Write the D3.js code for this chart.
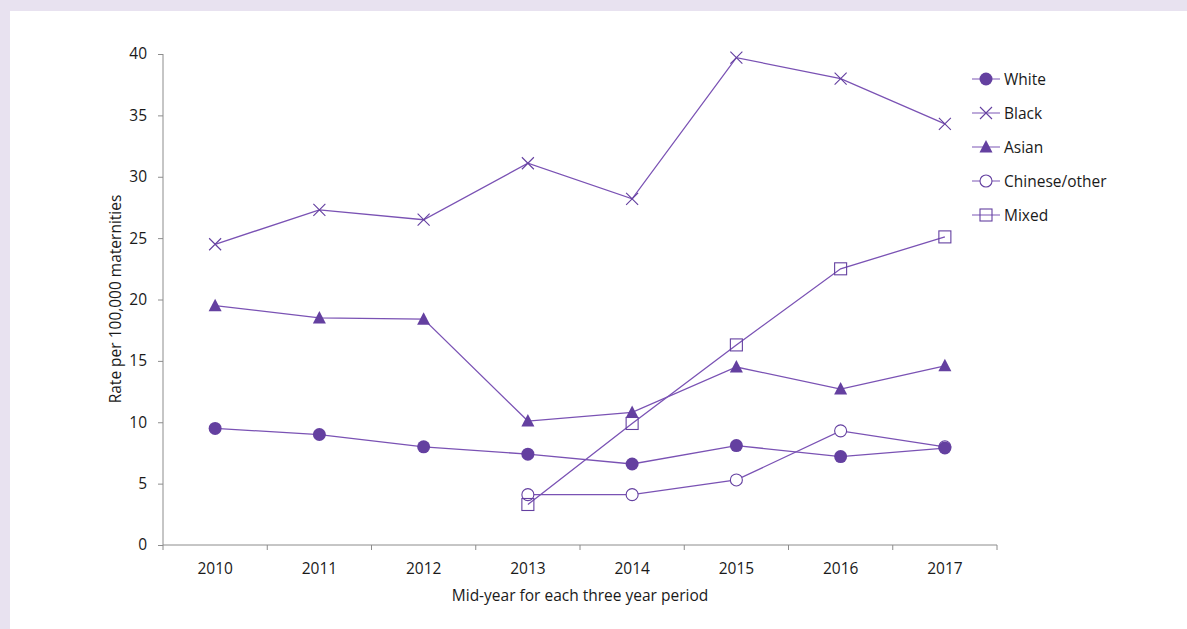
<!DOCTYPE html>
<html><head><meta charset="utf-8">
<script src="https://cdn.jsdelivr.net/npm/d3@7"></script>
<style>
body{margin:0;background:#e8e2f0;}
svg{display:block;}
text{font-family:"Open Sans","Noto Sans",sans-serif;fill:#1a1a1a;}
</style></head><body>
<svg id="c" width="1187" height="629"></svg>
<script>
const years = ["2010","2011","2012","2013","2014","2015","2016","2017"];
const white = [9.5, 9.0, 8.0, 7.4, 6.6, 8.1, 7.2, 7.9];
const black = [24.5, 27.3, 26.5, 31.1, 28.2, 39.7, 38.0, 34.3];
const asian = [19.5, 18.5, 18.4, 10.1, 10.8, 14.5, 12.7, 14.6];
const chinese = [null, null, null, 4.1, 4.1, 5.3, 9.3, 8.0];
const mixed = [null, null, null, 3.3, 9.9, 16.3, 22.5, 25.1];
const yTicks = [0,5,10,15,20,25,30,35,40];

const series = [
  {name:"White", values:white, sym:"circleFill"},
  {name:"Black", values:black, sym:"cross"},
  {name:"Asian", values:asian, sym:"triangle"},
  {name:"Chinese/other", values:chinese, sym:"circleOpen"},
  {name:"Mixed", values:mixed, sym:"square"}
];

const FS = 15.5;
const markColor = "#6440a0", lineColor = "#7a52b4", axisColor = "#8c8c8c";
const svg = d3.select("#c");
svg.append("rect").attr("x",10).attr("y",11).attr("width",1177).attr("height",618).attr("fill","#fff");

const x = d3.scaleBand().domain(years).range([163, 997]);
const y = d3.scaleLinear().domain([0,40]).range([545, 54]);

// Y axis
const ya = svg.append("g").attr("transform","translate(163,0)")
  .call(d3.axisLeft(y).tickValues(yTicks).tickSize(5).tickPadding(11));
ya.select(".domain").attr("stroke",axisColor).attr("d","M0,545V54");
ya.selectAll(".tick line").attr("stroke",axisColor);
ya.selectAll("text").attr("font-size",FS).style("font-family",'"Open Sans",sans-serif').attr("fill","#1a1a1a");

// X axis
const xa = svg.append("g").attr("transform","translate(0,545)")
  .call(d3.axisBottom(x).tickSize(0).tickPadding(18));
xa.select(".domain").attr("stroke",axisColor).attr("d","M163,0H997");
xa.selectAll("text").attr("font-size",FS).style("font-family",'"Open Sans",sans-serif').attr("fill","#1a1a1a");
const bounds = years.map(d=>x(d)).concat([x.range()[1]]);
xa.selectAll(".bt").data(bounds).enter().append("line")
  .attr("x1",d=>d).attr("x2",d=>d).attr("y1",0).attr("y2",5).attr("stroke",axisColor);

// Titles
svg.append("text").attr("x",580).attr("y",601).attr("text-anchor","middle").attr("font-size",FS)
  .text("Mid-year for each three year period");
svg.append("text").attr("transform","translate(121,299) rotate(-90)").attr("text-anchor","middle").attr("font-size",FS)
  .text("Rate per 100,000 maternities");

function drawMarker(g, sym, cx, cy){
  if(sym==="circleFill") g.append("circle").attr("cx",cx).attr("cy",cy).attr("r",6.5).attr("fill",markColor);
  else if(sym==="circleOpen") g.append("circle").attr("cx",cx).attr("cy",cy).attr("r",6).attr("fill","#fff").attr("stroke",markColor).attr("stroke-width",1.1);
  else if(sym==="triangle") g.append("path").attr("d",`M${cx},${cy-7}L${cx+6.5},${cy+5.5}L${cx-6.5},${cy+5.5}Z`).attr("fill",markColor);
  else if(sym==="square") g.append("rect").attr("x",cx-6).attr("y",cy-6).attr("width",12).attr("height",12).attr("fill","#fff").attr("fill-opacity",0).attr("stroke",markColor).attr("stroke-width",1.1);
  else if(sym==="cross") g.append("path").attr("d",`M${cx-6},${cy-6}L${cx+6},${cy+6}M${cx+6},${cy-6}L${cx-6},${cy+6}`).attr("stroke",markColor).attr("stroke-width",1.1).attr("fill","none");
}

const cxOf = d => x(d) + x.bandwidth()/2;
const line = d3.line().defined(d=>d.v!=null).x(d=>cxOf(d.y)).y(d=>y(d.v));

series.forEach(s=>{
  const pts = years.map((yr,i)=>({y:yr, v:s.values[i]}));
  svg.append("path").datum(pts).attr("d",line).attr("fill","none").attr("stroke",lineColor).attr("stroke-width",1.3);
});
// draw markers so that White sits on top
const drawOrder = [series[1], series[2], series[3], series[4], series[0]];
drawOrder.forEach(s=>{
  const g = svg.append("g");
  years.forEach((yr,i)=>{ if(s.values[i]!=null) drawMarker(g, s.sym, cxOf(yr), y(s.values[i])); });
});

// Legend
series.forEach((s,i)=>{
  const ly = 79 + i*34;
  const g = svg.append("g");
  g.append("line").attr("x1",972).attr("x2",1000).attr("y1",ly).attr("y2",ly).attr("stroke","#9a7cc6").attr("stroke-width",1.3);
  drawMarker(g, s.sym, 986, ly);
  g.append("text").attr("x",1004).attr("y",ly+5.5).attr("font-size",FS).text(s.name);
});
</script>
</body></html>
